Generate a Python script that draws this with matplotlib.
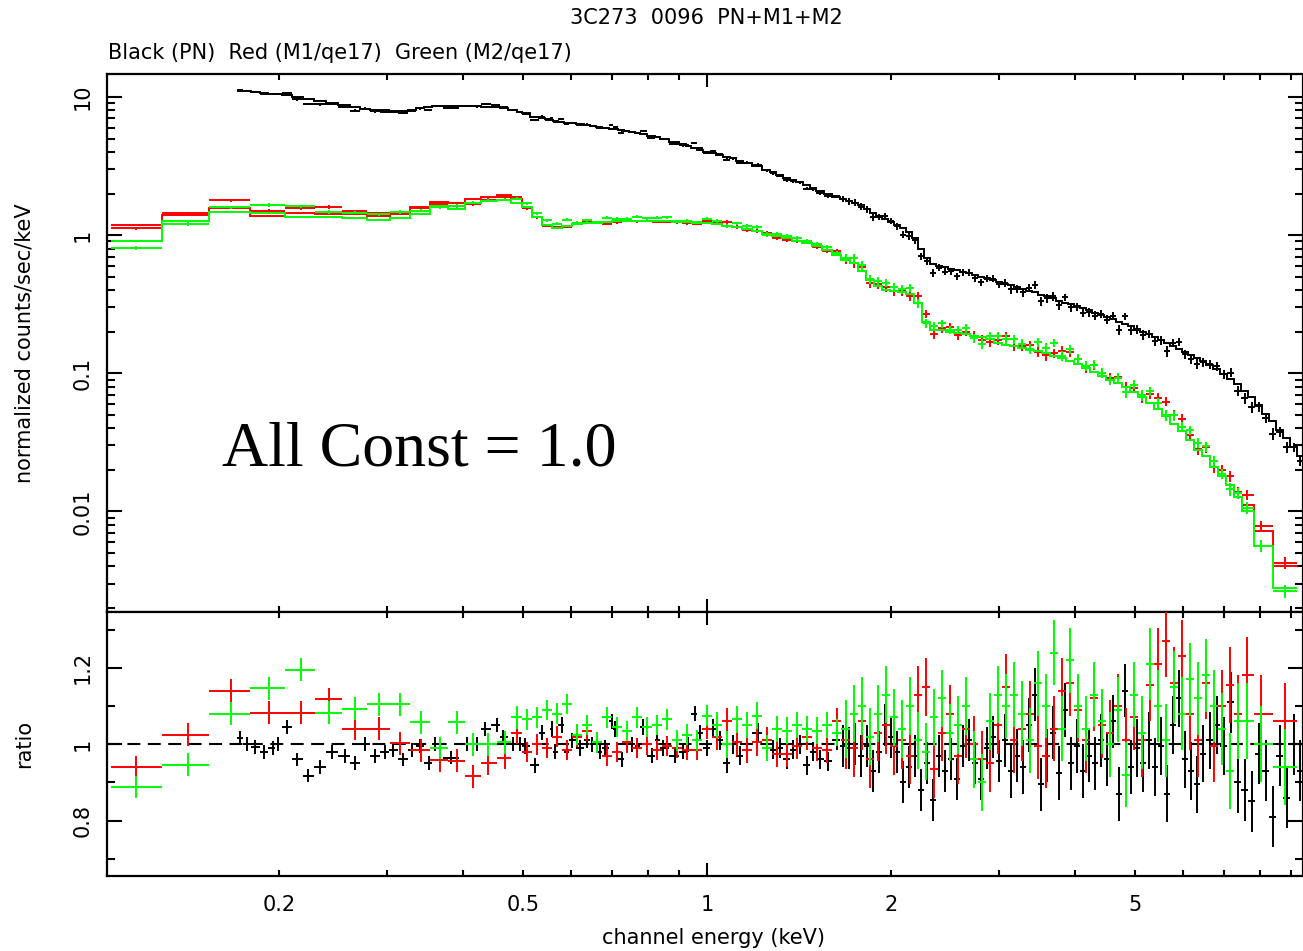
import numpy as np
import matplotlib
matplotlib.use("Agg")
import matplotlib.pyplot as plt
from matplotlib.ticker import FixedLocator, FixedFormatter, NullFormatter

# ---- PN (black): bin centre energy (keV), model counts/s/keV, data/model ratio
pn_energy = [0.1725, 0.177, 0.1826, 0.189, 0.195, 0.199, 0.206, 0.214, 0.223, 0.233,
             0.244, 0.256, 0.266, 0.276, 0.287, 0.298, 0.307, 0.319, 0.330, 0.340,
             0.351, 0.360, 0.381, 0.405, 0.421, 0.434, 0.454, 0.464, 0.482,
             0.495, 0.504, 0.524, 0.538, 0.548, 0.558, 0.564, 0.579, 0.590, 0.602,
             0.620, 0.637, 0.649, 0.669, 0.681, 0.700, 0.707, 0.726, 0.740, 0.754,
             0.769, 0.786, 0.813, 0.829, 0.847, 0.887, 0.914, 0.931, 0.956, 0.974,
             1.0, 1.023, 1.05, 1.078, 1.103, 1.132, 1.162, 1.211, 1.253, 1.282,
             1.316, 1.351, 1.381, 1.418, 1.457, 1.490, 1.529, 1.576, 1.630,
             1.668, 1.706, 1.745, 1.785, 1.826, 1.867, 1.910, 1.954, 1.998, 2.044,
             2.091, 2.139, 2.188, 2.237, 2.288, 2.341, 2.394, 2.449, 2.505, 2.562,
             2.620, 2.680, 2.742, 2.804, 2.868, 2.934, 3.0, 3.069, 3.139, 3.211,
             3.284, 3.359, 3.436, 3.514, 3.594, 3.677, 3.761, 3.846, 3.934, 4.024,
             4.116, 4.210, 4.306, 4.405, 4.505, 4.608, 4.713, 4.821, 4.931, 5.044,
             5.159, 5.277, 5.397, 5.521, 5.647, 5.776, 5.908, 6.039, 6.177, 6.320,
             6.464, 6.636, 6.812, 6.995, 7.181, 7.372, 7.569, 7.772, 7.980, 8.192,
             8.410, 8.638, 8.868, 9.103, 9.311]
pn_model = [11.1, 11.0, 10.9, 10.7, 10.6, 10.5, 10.3, 10.0, 9.7, 9.4,
            9.1, 8.7, 8.4, 8.25, 8.1, 8.0, 7.95, 7.95, 8.1, 8.3,
            8.5, 8.6, 8.6, 8.6, 8.55, 8.5, 8.4, 8.35, 8.1,
            7.8, 7.6, 7.2, 7.0, 6.9, 6.8, 6.75, 6.6, 6.5, 6.45,
            6.35, 6.25, 6.2, 6.1, 6.0, 5.9, 5.85, 5.75, 5.7, 5.6,
            5.5, 5.4, 5.2, 5.1, 5.0, 4.7, 4.55, 4.45, 4.3, 4.15,
            4.0, 3.9, 3.8, 3.7, 3.6, 3.45, 3.35, 3.15, 2.96, 2.85,
            2.72, 2.6, 2.5, 2.42, 2.3, 2.2, 2.1, 2.0, 1.9,
            1.84, 1.78, 1.72, 1.66, 1.55, 1.45, 1.38, 1.30, 1.24, 1.18,
            1.12, 1.05, 0.95, 0.80, 0.68, 0.62, 0.60, 0.585, 0.57, 0.555,
            0.54, 0.53, 0.515, 0.50, 0.49, 0.475, 0.46, 0.445, 0.435, 0.42,
            0.41, 0.395, 0.385, 0.37, 0.36, 0.35, 0.335, 0.325, 0.315, 0.305,
            0.295, 0.285, 0.275, 0.265, 0.255, 0.245, 0.236, 0.227, 0.218, 0.209,
            0.200, 0.191, 0.182, 0.174, 0.166, 0.158, 0.150, 0.143, 0.136, 0.130,
            0.123, 0.115, 0.107, 0.099, 0.091, 0.083, 0.075, 0.067, 0.059, 0.051,
            0.045, 0.039, 0.034, 0.029, 0.025]
pn_ratio = [1.016, 1.0, 0.993, 0.98, 0.99, 1.0, 1.046, 0.96, 0.918, 0.94,
            0.98, 0.97, 0.95, 1.0, 0.97, 0.98, 0.985, 0.96, 0.985, 0.995,
            0.95, 1.0, 0.965, 1.0, 1.0, 1.04, 1.05, 1.02, 1.0,
            1.0, 0.995, 0.945, 1.03, 0.99, 1.04, 0.98, 1.05, 0.98, 1.01,
            0.99, 1.01, 1.0, 0.98, 0.99, 1.06, 1.04, 0.96, 1.0, 1.0,
            0.995, 1.045, 0.97, 1.01, 0.99, 0.97, 0.98, 1.0, 1.08, 1.03,
            0.99, 1.04, 1.01, 0.95, 1.0, 0.97, 1.0, 1.03, 1.0, 0.985,
            0.99, 0.96, 0.985, 1.0, 0.945, 0.98, 0.96, 0.955, 1.01,
            0.995, 0.99, 1.0, 0.97, 0.995, 0.93, 0.98, 1.05, 1.02, 0.98,
            0.9, 0.94, 0.97, 0.88, 0.95, 0.855, 0.97, 0.93, 0.96, 0.91,
            0.995, 1.01, 0.95, 0.91, 0.99, 1.02, 0.955, 1.01, 0.93, 0.97,
            0.94, 1.05, 1.13, 0.895, 0.97, 1.03, 0.925, 1.09, 0.95, 0.995,
            0.93, 0.97, 0.95, 1.01, 0.96, 1.06, 0.87, 1.14, 0.94, 0.99,
            0.95, 1.01, 0.94, 0.995, 0.87, 1.05, 1.12, 0.96, 0.93, 0.895,
            0.975, 1.01, 1.05, 0.995, 1.11, 0.9, 0.88, 0.85, 0.975, 0.93,
            0.81, 0.97, 0.86, 1.0, 0.93]

# ---- MOS1 (red) and MOS2 (green), same grouping
mos_energy = [0.1168, 0.1418, 0.1666, 0.1922, 0.2167, 0.2411, 0.2660, 0.2911, 0.3151, 0.3409,
              0.366, 0.390, 0.415, 0.439, 0.468, 0.489,
              0.508, 0.528, 0.548, 0.569, 0.590, 0.613, 0.637, 0.661, 0.686, 0.713,
              0.740, 0.769, 0.798, 0.829, 0.860, 0.893, 0.927, 0.963, 1.0, 1.038,
              1.078, 1.119, 1.162, 1.207, 1.253, 1.301, 1.351, 1.403, 1.457, 1.512,
              1.570, 1.631,
              1.687, 1.739, 1.792, 1.846, 1.903, 1.961, 2.021, 2.083, 2.146, 2.212,
              2.279, 2.349, 2.421, 2.495, 2.571, 2.650, 2.731, 2.814, 2.900, 2.989,
              3.080, 3.174, 3.271, 3.372, 3.474, 3.580, 3.690, 3.803, 3.919, 4.039,
              4.162, 4.290, 4.421, 4.556, 4.695, 4.838, 4.986, 5.138, 5.296, 5.457,
              5.624, 5.796, 5.972, 6.156, 6.344, 6.538, 6.737, 6.943, 7.155, 7.372,
              7.626, 8.040, 8.798]
m1_model_low = [1.19, 1.40, 1.57, 1.38, 1.45, 1.43, 1.43, 1.38, 1.43, 1.60,
                1.74, 1.70, 1.84, 1.90, 1.96, 1.82]
m2_model_low = [0.905, 1.27, 1.47, 1.44, 1.35, 1.36, 1.33, 1.28, 1.33, 1.42,
                1.62, 1.54, 1.72, 1.78, 1.80, 1.72]
mos_model_mid = [1.60, 1.35, 1.18, 1.12, 1.17, 1.20, 1.22, 1.23, 1.25, 1.26,
                 1.27, 1.27, 1.27, 1.27, 1.26, 1.25, 1.24, 1.23, 1.22, 1.20,
                 1.17, 1.14, 1.11, 1.07, 1.02, 0.98, 0.95, 0.91, 0.87, 0.83,
                 0.78, 0.72]
m1_model_high = [0.66, 0.63, 0.55, 0.47, 0.43, 0.40, 0.395, 0.39, 0.375, 0.32,
                 0.235, 0.205, 0.205, 0.200, 0.196, 0.192, 0.187, 0.182, 0.176, 0.165,
                 0.161, 0.157, 0.152, 0.148, 0.144, 0.139, 0.134, 0.128, 0.122, 0.116,
                 0.109, 0.102, 0.095, 0.090, 0.085, 0.079, 0.073, 0.067, 0.061, 0.055,
                 0.049, 0.043, 0.038, 0.033, 0.028, 0.025, 0.021, 0.018, 0.0155, 0.0128,
                 0.0112, 0.0072, 0.0040]
m2_model_high = [0.66, 0.63, 0.55, 0.47, 0.43, 0.40, 0.395, 0.39, 0.375, 0.32,
                 0.235, 0.205, 0.205, 0.200, 0.196, 0.192, 0.187, 0.182, 0.176, 0.165,
                 0.161, 0.157, 0.152, 0.148, 0.144, 0.139, 0.134, 0.128, 0.122, 0.116,
                 0.109, 0.102, 0.095, 0.090, 0.085, 0.079, 0.073, 0.067, 0.061, 0.055,
                 0.049, 0.043, 0.038, 0.033, 0.028, 0.025, 0.021, 0.018, 0.0155, 0.0128,
                 0.0100, 0.0056, 0.0028]
m1_ratio = [0.94, 1.025, 1.14, 1.082, 1.082, 1.118, 1.041, 1.041, 1.003, 0.984,
            0.958, 0.957, 0.916, 0.95, 0.965, 1.03,
            0.98, 1.0, 0.99, 1.02, 0.985, 1.02, 1.035, 1.005, 0.97, 0.98,
            1.005, 0.99, 1.0, 0.985, 0.995, 0.99, 0.985, 0.985, 1.04, 1.02,
            1.06, 1.005, 0.985, 1.005, 1.01, 0.975, 0.975, 0.995, 1.02, 0.99,
            0.985, 1.06,
            1.01, 0.99, 1.06, 0.96, 1.03, 1.05, 0.995, 1.01, 0.97, 1.13,
            1.15, 0.935, 1.03, 1.08, 0.97, 1.04, 1.0, 0.96, 0.95, 1.05,
            1.15, 1.01, 1.04, 1.08, 0.995, 0.97, 1.04, 1.14, 1.16, 1.09,
            1.01, 1.12, 1.05, 1.03, 1.1, 1.01, 1.07, 1.01, 1.155, 1.21,
            1.27, 1.16, 1.23, 1.08, 1.01, 1.16, 0.995, 1.1, 1.155, 1.08,
            1.18, 1.08, 1.06]
m2_ratio = [0.888, 0.946, 1.08, 1.147, 1.195, 1.082, 1.093, 1.105, 1.104, 1.057,
            0.99, 1.057, 1.0, 1.0, 1.005, 1.07,
            1.065, 1.07, 1.09, 1.08, 1.105, 1.025, 1.05, 1.005, 1.07, 1.045,
            1.035, 1.07, 1.045, 1.05, 1.065, 1.01, 1.025, 1.01, 1.075, 1.05,
            1.0, 1.065, 1.05, 1.075, 0.99, 1.04, 1.035, 1.05, 1.04, 1.035,
            1.05, 1.03,
            1.04, 1.08, 1.1, 1.02, 1.08, 1.13, 1.07, 1.04, 1.1, 1.01,
            0.98, 1.07, 1.12, 1.03, 1.05, 1.1, 0.96, 0.9, 1.06, 1.13,
            1.1, 1.13, 1.08, 1.01, 1.16, 1.1, 1.24, 1.04, 1.22, 1.1,
            1.04, 1.13, 1.06, 1.0, 1.09, 0.92, 1.13, 1.03, 1.21, 1.1,
            1.01, 1.15, 1.08, 1.17, 1.12, 1.18, 1.1, 1.04, 0.93, 1.06,
            1.06, 1.0, 0.94]

# ratio 1-sigma errors, constant within energy bands
err_bands = [0.5, 1.0, 1.65, 3.0, 5.0, 7.0]
pn_err = [0.018, 0.02, 0.025, 0.055, 0.07, 0.075, 0.08]
m1_err = [0.03, 0.027, 0.035, 0.075, 0.085, 0.095, 0.1]
m2_err = [0.03, 0.027, 0.035, 0.075, 0.085, 0.095, 0.1]

title = "3C273  0096  PN+M1+M2"
subtitle = "Black (PN)  Red (M1/qe17)  Green (M2/qe17)"
note = "All Const = 1.0"


def bin_edges(e):
    e = np.asarray(e, float)
    mid = np.sqrt(e[1:] * e[:-1])
    return np.concatenate([[e[0] ** 2 / mid[0]], mid, [e[-1] ** 2 / mid[-1]]])


def band_err(e, errs):
    return np.asarray(errs)[np.searchsorted(err_bands, e)]


plt.rcParams['font.family'] = ['DejaVu Sans']
plt.rcParams['font.size'] = 15

fig = plt.figure(figsize=(13.03, 9.51), dpi=100)
ax1 = fig.add_axes([0.0821, 0.3560, 0.9179, 0.5662])
ax2 = fig.add_axes([0.0821, 0.0789, 0.9179, 0.2771])

series = [
    (pn_energy, pn_model, pn_ratio, pn_err, 'black'),
    (mos_energy, m1_model_low + mos_model_mid + m1_model_high, m1_ratio, m1_err, '#ff0000'),
    (mos_energy, m2_model_low + mos_model_mid + m2_model_high, m2_ratio, m2_err, '#00ff00'),
]

ax2.axhline(1.0, color='black', lw=1.5, ls=(0, (6.2, 3.6)), zorder=1)

for k, (e, model, ratio, errs, col) in enumerate(series):
    e = np.asarray(e)
    model = np.asarray(model)
    ratio = np.asarray(ratio)
    edges = bin_edges(e)
    xerr = [e - edges[:-1], edges[1:] - e]
    rerr = band_err(e, errs)
    flux = model * ratio
    z = 2 + k
    ax1.errorbar(e, flux, xerr=xerr, yerr=model * rerr, fmt='none',
                 ecolor=col, elinewidth=1.4, capsize=0, zorder=z)
    ax1.stairs(model, edges, baseline=None, color=col, lw=1.4, zorder=z)
    ax2.errorbar(e, ratio, xerr=xerr, yerr=rerr, fmt='none',
                 ecolor=col, elinewidth=1.4, capsize=0, zorder=z)

for ax in (ax1, ax2):
    ax.set_xscale('log')
    ax.set_xlim(0.1046, 9.42)
    for s in ax.spines.values():
        s.set_linewidth(1.6)
    ax.xaxis.set_major_locator(FixedLocator([1.0]))
    ax.xaxis.set_minor_locator(FixedLocator([0.2, 0.3, 0.4, 0.5, 0.6, 0.7, 0.8, 0.9,
                                             2, 3, 4, 5, 6, 7, 8, 9]))
    ax.tick_params(which='both', direction='in', top=True, right=True, width=1.5)
    ax.tick_params(axis='x', which='major', length=9.5)
    ax.tick_params(axis='x', which='minor', length=4.5)
    ax.tick_params(axis='y', which='major', length=11, pad=10)
    ax.tick_params(axis='y', which='minor', length=6)

ax1.set_yscale('log')
ax1.set_ylim(0.001854, 14.68)
ax1.yaxis.set_major_locator(FixedLocator([0.01, 0.1, 1, 10]))
ax1.yaxis.set_major_formatter(FixedFormatter(['0.01', '0.1', '1', '10']))
ax1.yaxis.set_minor_locator(FixedLocator(
    [m * d for d in (0.001, 0.01, 0.1, 1) for m in range(2, 10)]))
ax1.yaxis.set_minor_formatter(NullFormatter())
ax1.xaxis.set_major_formatter(NullFormatter())
ax1.xaxis.set_minor_formatter(NullFormatter())

ax2.set_ylim(0.655, 1.345)
ax2.yaxis.set_major_locator(FixedLocator([0.8, 1.0, 1.2]))
ax2.yaxis.set_major_formatter(FixedFormatter(['0.8', '1', '1.2']))
ax2.yaxis.set_minor_locator(FixedLocator([0.7, 0.9, 1.1, 1.3]))
ax2.xaxis.set_major_formatter(FixedFormatter(['1']))
ax2.xaxis.set_minor_formatter(FixedFormatter(['0.2', '', '', '0.5', '', '', '', '',
                                              '2', '', '', '5', '', '', '', '']))
ax2.tick_params(axis='x', which='both', pad=14)

for ax in (ax1, ax2):
    for lab in ax.get_yticklabels():
        lab.set_rotation(90)
        lab.set_va('center')

ax1.set_ylabel('normalized counts/sec/keV')
ax1.yaxis.set_label_coords(-0.061, 0.5)
ax2.set_ylabel('ratio')
ax2.yaxis.set_label_coords(-0.061, 0.5)
ax2.set_xlabel('channel energy (keV)')
ax2.xaxis.set_label_coords(0.5075, -0.198)

fig.text(0.542, 0.981, title, ha='center', va='center', fontsize=15)
fig.text(0.083, 0.944, subtitle, ha='left', va='center', fontsize=15)
ax1.text(0.0962, 0.273, note, transform=ax1.transAxes, ha='left', va='baseline',
         fontsize=46, family=['Liberation Serif', 'DejaVu Serif'])

fig.savefig('out.png', dpi=100)
